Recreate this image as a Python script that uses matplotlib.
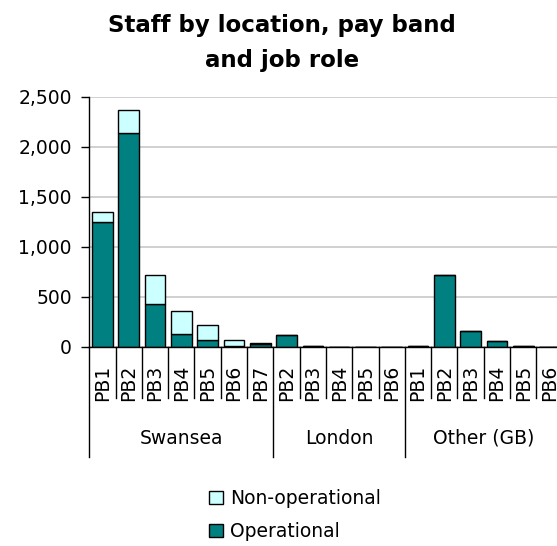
import matplotlib
matplotlib.use("Agg")
import matplotlib.pyplot as plt
from matplotlib.patches import Patch
from matplotlib.ticker import FuncFormatter, MultipleLocator
import matplotlib.transforms as mtransforms

# ---- data ----
groups = ["Swansea", "London", "Other (GB)"]
group_bands = [
    ["PB1", "PB2", "PB3", "PB4", "PB5", "PB6", "PB7"],
    ["PB2", "PB3", "PB4", "PB5", "PB6"],
    ["PB1", "PB2", "PB3", "PB4", "PB5", "PB6"],
]
operational = [1250, 2140, 435, 130, 70, 8, 35,
               118, 12, 0, 0, 0,
               12, 720, 162, 58, 12, 0]
non_operational = [100, 230, 285, 233, 150, 64, 8,
                   0, 0, 0, 0, 0,
                   0, 0, 0, 0, 0, 0]
title = "Staff by location, pay band\nand job role"
series_names = ["Non-operational", "Operational"]

# ---- style ----
op_color = "#008080"
nonop_color = "#CCFFFF"
W, H = 557, 546
FS = 13.5
plt.rcParams['font.family'] = ['DejaVu Sans']

fig = plt.figure(figsize=(W / 100, H / 100), dpi=100)
x0, x1 = 89.3, 562.7
y0, y1 = 347, 97
ax = fig.add_axes([x0 / W, (H - y0) / H, (x1 - x0) / W, (y0 - y1) / H])

labels = [b for bands in group_bands for b in bands]
n = len(labels)
xs = [i + 0.5 for i in range(n)]

ax.bar(xs, operational, width=0.78, color=op_color, edgecolor="black",
       linewidth=1.0, zorder=3)
ax.bar(xs, non_operational, width=0.78, bottom=operational, color=nonop_color,
       edgecolor="black", linewidth=1.0, zorder=3)

ax.set_xlim(0, n)
ax.set_ylim(0, 2500)
ax.yaxis.set_major_locator(MultipleLocator(500))
ax.yaxis.set_major_formatter(FuncFormatter(lambda v, p: f"{int(v):,}"))
ax.grid(axis="y", color="#c8c8c8", linewidth=1.2, zorder=0)
ax.set_axisbelow(True)
for s in ["top", "right"]:
    ax.spines[s].set_visible(False)
ax.spines["left"].set_linewidth(1.0)
ax.spines["bottom"].set_linewidth(1.0)
ax.spines["bottom"].set_zorder(4)
ax.tick_params(axis="y", direction="out", length=5.5, width=1.0, pad=7,
               labelsize=FS)
ax.set_xticks([])

trans = mtransforms.blended_transform_factory(ax.transData, ax.transAxes)
ph = y0 - y1
# category separators
boundaries = [0]
for bands in group_bands:
    boundaries.append(boundaries[-1] + len(bands))
for k in range(n + 1):
    bottom = -(457 - y0) / ph if k in boundaries else -(398 - y0) / ph
    ax.plot([k, k], [0, bottom], color="black", lw=1.0, transform=trans,
            clip_on=False)
for i, lab in enumerate(labels):
    ax.text(i + 0.5, -(365 - y0) / ph, lab, rotation=90, ha="center",
            va="top", fontsize=FS, transform=trans)
for g, name in enumerate(groups):
    c = (boundaries[g] + boundaries[g + 1]) / 2
    ax.text(c, -(438 - y0) / ph, name, ha="center", va="center",
            fontsize=FS, transform=trans)

fig.text(281.7 / W, 1 - 14 / H, title, ha="center", va="top",
         fontsize=16.5, fontweight="bold", linespacing=1.65)

handles = [Patch(facecolor=nonop_color, edgecolor="black", lw=1.0),
           Patch(facecolor=op_color, edgecolor="black", lw=1.0)]
fig.legend(handles, series_names, loc="upper left",
           bbox_to_anchor=(209 / W, 1 - 489 / H), frameon=False,
           fontsize=FS, handlelength=0.75, handleheight=0.75,
           handletextpad=0.35, labelspacing=0.75, borderaxespad=0,
           borderpad=0)

fig.savefig("out.png", dpi=100)
